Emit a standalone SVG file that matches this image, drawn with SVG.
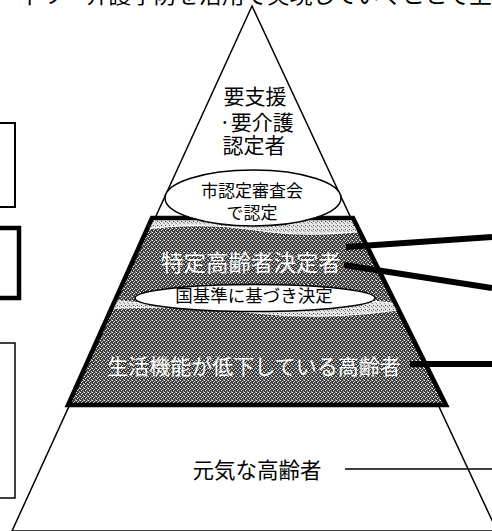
<svg xmlns="http://www.w3.org/2000/svg" width="492" height="531" viewBox="0 0 492 531">
<style>
  text { font-family: "Noto Sans CJK JP", "Noto Sans CJK SC", sans-serif; fill: #000; }
  .mid { text-anchor: middle; }
  .wt { fill: #fff; }
  .thin { fill: none; stroke: #000; stroke-width: 1.5; }
  .conn { fill: none; stroke: #000; stroke-width: 6; stroke-linecap: butt; }
  .ell { fill: #fff; stroke: #000; stroke-width: 1.5; }
</style>
<defs>
  <pattern id="dark" width="4" height="4" patternUnits="userSpaceOnUse">
    <rect width="4" height="4" fill="#3a3a3a"/>
    <rect x="0" y="0" width="1" height="1" fill="#fff"/>
    <rect x="2" y="1" width="1" height="1" fill="#ddd"/>
    <rect x="1" y="2" width="1" height="1" fill="#fff"/>
    <rect x="3" y="3" width="1" height="1" fill="#bbb"/>
    <rect x="3" y="0" width="1" height="1" fill="#999"/>
  </pattern>
  <pattern id="light" width="4" height="4" patternUnits="userSpaceOnUse">
    <rect width="4" height="4" fill="#e6e6e6"/>
    <rect x="1" y="1" width="1" height="1" fill="#444"/>
    <rect x="3" y="2" width="1" height="1" fill="#777"/>
    <rect x="0" y="3" width="1" height="1" fill="#999"/>
  </pattern>
  <clipPath id="bandClip">
    <polygon points="152,218 353,218 446,405 68,405"/>
  </clipPath>
</defs>

<rect width="492" height="531" fill="#fff"/>

<!-- cropped heading text at top edge -->
<g id="heading">
  <text x="18" y="3" font-size="22" textLength="474" lengthAdjust="spacingAndGlyphs">ィリー介護予防を活用で実現していくことで上</text>
</g>

<!-- left boxes (cropped at page edge) -->
<g id="left-box-1"><rect x="-10" y="123" width="25" height="84" fill="none" stroke="#000" stroke-width="2"/></g>
<g id="left-box-2"><rect x="-10" y="228" width="29" height="70" fill="none" stroke="#000" stroke-width="4.5"/></g>
<g id="left-box-3"><rect x="-10" y="343" width="25" height="155" fill="none" stroke="#000" stroke-width="1.5"/></g>

<!-- pyramid outline -->
<g id="pyramid">
  <polygon class="thin" points="252,6 12,531 497,531"/>
</g>

<!-- band of specific / declining elderly -->
<g id="band">
  <g clip-path="url(#bandClip)">
    <rect x="60" y="210" width="400" height="200" fill="url(#light)"/>
    <path d="M 120 233 Q 190 220 255 230 Q 320 240 400 226 L 400 304 Q 330 296 255 302 Q 180 308 110 300 Z" fill="url(#dark)" stroke="#fff" stroke-width="1.2"/>
    <path d="M 60 312 Q 170 302 255 313 Q 340 322 420 306 L 460 410 L 60 410 Z" fill="url(#dark)" stroke="#fff" stroke-width="1.2"/>
  </g>
  <polygon points="152,218 353,218 446,405 68,405" fill="none" stroke="#000" stroke-width="4.5" stroke-linejoin="miter"/>
</g>

<!-- connectors -->
<g id="connectors">
  <line class="conn" x1="346" y1="247" x2="492" y2="237"/>
  <line class="conn" x1="344" y1="265" x2="492" y2="288"/>
  <line class="conn" x1="410" y1="364" x2="492" y2="364"/>
  <line x1="345" y1="469" x2="492" y2="469" stroke="#000" stroke-width="1.5"/>
</g>

<!-- top node -->
<g id="node-certified">
  <text class="mid" x="255" y="104" font-size="21">要支援</text>
  <text x="219" y="130" font-size="21">·要介護</text>
  <text class="mid" x="254" y="153" font-size="21">認定者</text>
</g>

<g id="node-city-review">
  <ellipse class="ell" cx="253" cy="198" rx="88" ry="28"/>
  <text class="mid" x="252" y="197" font-size="17">市認定審査会</text>
  <text class="mid" x="252" y="219" font-size="17">で認定</text>
</g>

<g id="node-specific">
  <text class="mid wt" x="251" y="271" font-size="22.5">特定高齢者決定者</text>
</g>

<g id="node-national">
  <ellipse class="ell" cx="255" cy="298" rx="120" ry="13.5"/>
  <text class="mid" x="254" y="302" font-size="17.5">国基準に基づき決定</text>
</g>

<g id="node-declining">
  <text class="mid wt" x="254" y="374" font-size="21">生活機能が低下している高齢者</text>
</g>

<g id="node-healthy">
  <text class="mid" x="257" y="478" font-size="21.5">元気な高齢者</text>
</g>
</svg>
